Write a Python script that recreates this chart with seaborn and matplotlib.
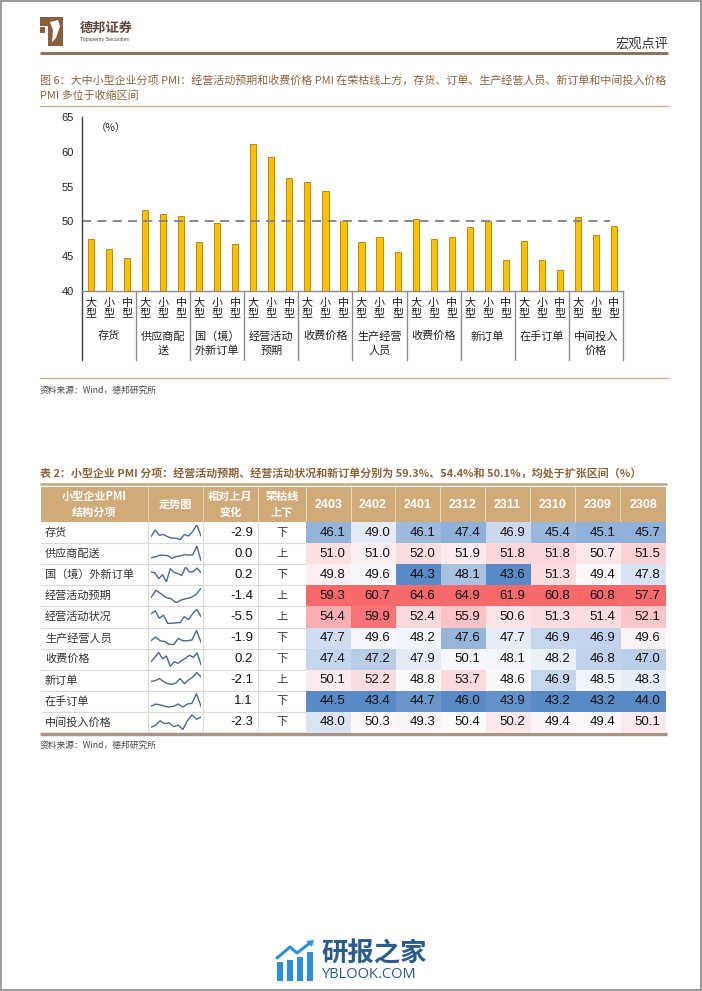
import numpy as np
import pandas as pd
import matplotlib
matplotlib.use("Agg")
import matplotlib.pyplot as plt
import matplotlib.transforms as mtransforms
from matplotlib.colors import LinearSegmentedColormap
from matplotlib.patches import Rectangle, Polygon
import seaborn as sns

# ---------------- data: bar chart ----------------
groups = ["存货", "供应商配\n送", "国（境）\n外新订单", "经营活动\n预期", "收费价格",
          "生产经营\n人员", "收费价格", "新订单", "在手订单", "中间投入\n价格"]
sizes = ["大\n型", "小\n型", "中\n型"]
large = [47.4, 51.6, 47.0, 61.1, 55.6, 47.0, 50.4, 49.2, 47.2, 50.7]
small = [46.1, 51.0, 49.8, 59.3, 54.4, 47.7, 47.4, 50.1, 44.5, 48.0]
medium = [44.8, 50.8, 46.7, 56.2, 50.0, 45.6, 47.7, 44.4, 43.0, 49.3]
y_ticks = [40, 45, 50, 55, 60, 65]

# ---------------- data: table ----------------
row_names = ["存货", "供应商配送", "国（境）外新订单", "经营活动预期", "经营活动状况",
             "生产经营人员", "收费价格", "新订单", "在手订单", "中间投入价格"]
months = ["2403", "2402", "2401", "2312", "2311", "2310", "2309", "2308"]
inv = [46.1, 49.0, 46.1, 47.4, 46.9, 45.4, 45.1, 45.7]
sup = [51.0, 51.0, 52.0, 51.9, 51.8, 51.8, 50.7, 51.5]
exp_order = [49.8, 49.6, 44.3, 48.1, 43.6, 51.3, 49.4, 47.8]
expect = [59.3, 60.7, 64.6, 64.9, 61.9, 60.8, 60.8, 57.7]
activity = [54.4, 59.9, 52.4, 55.9, 50.6, 51.3, 51.4, 52.1]
employ = [47.7, 49.6, 48.2, 47.6, 47.7, 46.9, 46.9, 49.6]
charge = [47.4, 47.2, 47.9, 50.1, 48.1, 48.2, 46.8, 47.0]
new_order = [50.1, 52.2, 48.8, 53.7, 48.6, 46.9, 48.5, 48.3]
backlog = [44.5, 43.4, 44.7, 46.0, 43.9, 43.2, 43.2, 44.0]
input_price = [48.0, 50.3, 49.3, 50.4, 50.2, 49.4, 49.4, 50.1]
change = [-2.9, 0.0, 0.2, -1.4, -5.5, -1.9, 0.2, -2.1, 1.1, -2.3]
side = ["下", "上", "下", "上", "上", "下", "下", "上", "下", "下"]

# sparkline shapes (relative heights)
sp_inv = [2, 6.5, 3, 3.5, 2, 1, 1, 0, 3.5, 2.5, 5.5, 10, 2.5]
sp_sup = [2.1, 2.5, 3.7, 3.8, 3.5, 1.7, 2.8, 3.3, 4.2, 3.8, 4.0, 10, 0]
sp_exp = [6.7, 6.2, 2.2, 4.9, 0, 8.9, 6.5, 5.6, 4.4, 10, 6.7, 7.1, 9.3, 6.2]
sp_expect = [3.7, 8.6, 6.3, 3.7, 2.9, 0, 2.0, 2.9, 3.7, 5.7, 10]
sp_act = [7, 9, 4, 6, 0.5, 0.5, 0.8, 1, 5, 3, 7, 10, 5]
sp_emp = [3, 5.5, 3, 2.5, 0.5, 0.5, 4.5, 3, 3, 3.5, 10, 2]
sp_charge = [3, 6, 9.5, 5, 7, 0, 3, 2, 4, 5.5, 7.5, 6, 9, 1]
sp_new = [4, 4.5, 6, 4, 2.5, 2, 3, 6, 2.5, 5, 7, 10, 7]
sp_back = [1.5, 3, 2.5, 1.5, 1, 1.5, 3, 1, 3, 3.5, 10, 1.5]
sp_input = [1.5, 3, 6, 4, 4.5, 2, 3, 0, 6, 10, 7, 8.5]

# ---------------- setup ----------------
sns.set_theme(style="white")
plt.rcParams["font.family"] = ["Noto Sans CJK SC", "DejaVu Sans"]
W, H = 702, 991
fig = plt.figure(figsize=(7.02, 9.91), dpi=100)
fig.patch.set_facecolor("white")

def fbox(x0, y0, x1, y1):
    return [x0 / W, 1 - y1 / H, (x1 - x0) / W, (y1 - y0) / H]

P = fig.add_axes([0, 0, 1, 1], zorder=0)
P.set_xlim(0, W); P.set_ylim(H, 0); P.axis("off")

BROWN = "#8C6239"
TAN = "#C9AE8C"
NUM = ["Liberation Sans", "DejaVu Sans"]

# page frame
P.add_patch(Rectangle((0.5, 0.5), W - 1.5, H - 1.5, fill=False, ec="#8A8A8A", lw=1.2))

# header logo
P.add_patch(Rectangle((40, 17), 23, 9, color="#8B5E3C", lw=0))
P.add_patch(Rectangle((48, 26), 15, 20, color="#8B5E3C", lw=0))
P.add_patch(Rectangle((40, 27), 5, 6, color="#8B5E3C", lw=0))
P.add_patch(Polygon([[50, 22], [58, 20], [60, 26], [56, 38], [52, 42], [53, 30]], color="white", lw=0))
P.text(80, 28, "德邦证券", fontsize=9.5, weight="bold", color="#5B4636", va="center")
P.text(80, 40, "Topsperity Securities", fontsize=3.8, color="#5B4636", va="center", family=NUM)
P.text(668, 44, "宏观点评", fontsize=9.5, color="#333333", ha="right", va="center")
P.plot([40, 668], [53, 53], color="#8B6B4E", lw=2, solid_capstyle="butt")

# figure title
P.text(40, 80, "图 6：大中小型企业分项 PMI：经营活动预期和收费价格 PMI 在荣枯线上方，存货、订单、生产经营人员、新订单和中间投入价格",
       fontsize=7.9, color=BROWN, va="center")
P.text(40, 96, "PMI 多位于收缩区间", fontsize=7.9, color=BROWN, va="center")
P.plot([40, 668], [106, 106], color=TAN, lw=1)

# ---------------- bar chart ----------------
keys, vals, = [], []
for i in range(len(groups)):
    for j, arr in enumerate([large, small, medium]):
        keys.append(f"{i}-{j}")
        vals.append(arr[i])
df_bar = pd.DataFrame({"key": keys, "value": vals})

ax = fig.add_axes(fbox(82, 117, 623, 291), zorder=2)
sns.barplot(data=df_bar, x="key", y="value", order=keys, color="#FFC000", saturation=1,
            width=0.34, edgecolor="#B07D00", linewidth=0.6, ax=ax)
ax.set_xlim(-0.5, len(keys) - 0.5)
ax.set_ylim(y_ticks[0], y_ticks[-1])
ax.set_yticks(y_ticks)
ax.set_yticklabels([str(t) for t in y_ticks], fontsize=8, family=NUM, color="#222222")
ax.set_xticks(range(len(keys)))
ax.set_xticklabels(sizes * len(groups), fontsize=8, linespacing=1.05, color="#222222")
ax.tick_params(axis="both", length=0)
ax.tick_params(axis="y", pad=6)
ax.tick_params(axis="x", pad=5)
ax.set_xlabel(""); ax.set_ylabel("")
for s in ["top", "right"]:
    ax.spines[s].set_visible(False)
ax.spines["left"].set_color("#404040")
ax.spines["bottom"].set_color("#8C8C8C")
ax.spines["left"].set_linewidth(1.0)
ax.spines["bottom"].set_linewidth(1.0)
ax.axhline(50, xmin=0, xmax=(610 - 82) / (623 - 82), color="#808080", ls=(0, (5, 3.5)), lw=1.3, zorder=1)
ax.text(0.025, 0.935, "（%）", transform=ax.transAxes, fontsize=7.5, color="#222222", va="center")

trans = mtransforms.blended_transform_factory(ax.transData, ax.transAxes)
ybot = -(360 - 291) / (291 - 117)
for k in range(len(groups) + 1):
    xb = 3 * k - 0.5
    ax.plot([xb, xb], [0, ybot], transform=trans, clip_on=False,
            color="#404040" if k == 0 else "#8C8C8C", lw=1.0)
for k, g in enumerate(groups):
    ax.text(3 * k + 1, -(331 - 291) / (291 - 117), g, transform=trans, ha="center", va="top",
            fontsize=8, linespacing=1.45, color="#222222")

# source 1
P.plot([40, 668], [378, 378], color=TAN, lw=1)
P.text(40, 390, "资料来源：Wind，德邦研究所", fontsize=6.3, color="#444444", va="center")

# ---------------- table ----------------
P.text(40, 473, "表 2：小型企业 PMI 分项：经营活动预期、经营活动状况和新订单分别为 59.3%、54.4%和 50.1%，均处于扩张区间（%）",
       fontsize=7.9, weight="bold", color=BROWN, va="center")
P.plot([40, 667], [484, 484], color=TAN, lw=2, solid_capstyle="butt")

cols = [41, 148, 203, 258, 306, 351, 395, 440, 485, 530, 575, 620, 666]
top_h, bot_h = 487, 522
row_h = (733 - 522) / 10
HEAD = "#D0AA78"
P.add_patch(Rectangle((cols[0], top_h), cols[-1] - cols[0], bot_h - top_h, color=HEAD, lw=0))
for c in cols[1:-1]:
    P.plot([c, c], [top_h, bot_h], color="#E8D6BC", lw=0.8)
heads = ["小型企业PMI\n结构分项", "走势图", "相对上月\n变化", "荣枯线\n上下"]
for i, h in enumerate(heads):
    P.text((cols[i] + cols[i + 1]) / 2, (top_h + bot_h) / 2, h, ha="center", va="center",
           fontsize=8, weight="bold", color="white", linespacing=1.35)
for i, m in enumerate(months):
    P.text((cols[4 + i] + cols[5 + i]) / 2, (top_h + bot_h) / 2, m, ha="center", va="center",
           fontsize=9, weight="bold", color="white", family=NUM)

for r in range(len(row_names)):
    y0 = bot_h + r * row_h
    yc = y0 + row_h / 2
    P.text(45, yc, row_names[r], fontsize=8, color="#333333", va="center")
    P.text(253, yc, f"{change[r]:.1f}", fontsize=9.5, color="#111111", va="center", ha="right", family=NUM)
    P.text((cols[3] + cols[4]) / 2, yc, side[r], fontsize=8, color="#333333", va="center", ha="center")
    if r > 0:
        P.plot([cols[0], cols[4]], [y0, y0], color="#DADADA", lw=0.8)
for c in cols[1:4]:
    P.plot([c, c], [bot_h, 733], color="#DADADA", lw=0.8)

# heatmap (per-column 3-colour scale: min / median / max)
table_vals = np.array([inv, sup, exp_order, expect, activity, employ, charge, new_order, backlog, input_price])
norm = np.zeros_like(table_vals)
for j in range(table_vals.shape[1]):
    c = table_vals[:, j]
    mn, md, mx = c.min(), np.median(c), c.max()
    norm[:, j] = np.where(c <= md, 0.5 * (c - mn) / (md - mn), 0.5 + 0.5 * (c - md) / (mx - md))
cmap = LinearSegmentedColormap.from_list("xl", ["#5A8AC6", "#FCFCFF", "#F8696B"])
hax = fig.add_axes(fbox(cols[4], bot_h, cols[-1], 733), zorder=3)
sns.heatmap(pd.DataFrame(norm, index=row_names, columns=months), annot=table_vals, fmt=".1f",
            cmap=cmap, vmin=0, vmax=1, cbar=False, ax=hax, xticklabels=False, yticklabels=False,
            annot_kws={"fontsize": 9.5, "color": "#111111", "family": NUM})
for t in hax.texts:
    x, y = t.get_position()
    t.set_position((x + 0.37, y))
    t.set_ha("right")
hax.set_xlabel(""); hax.set_ylabel("")
hax.tick_params(length=0)

# sparklines
sparks = [sp_inv, sp_sup, sp_exp, sp_expect, sp_act, sp_emp, sp_charge, sp_new, sp_back, sp_input]
for r, s in enumerate(sparks):
    y0 = bot_h + r * row_h
    sax = fig.add_axes(fbox(151, y0 + 2.5, 201, y0 + row_h - 3), zorder=3)
    sns.lineplot(x=np.arange(len(s)), y=s, ax=sax, color="#4A6796", lw=1.0)
    sax.set_xlim(0, len(s) - 1)
    sax.set_ylim(-0.3, 10.3)
    sax.axis("off")

P.plot([40, 667], [734, 734], color="#A89482", lw=2.5, solid_capstyle="butt")
P.text(40, 745, "资料来源：Wind，德邦研究所", fontsize=6.3, color="#444444", va="center")

# ---------------- watermark ----------------
BL = "#2E8FD8"
for (x0, yt) in [(277, 962), (287, 960), (297, 957), (307, 952)]:
    P.add_patch(Rectangle((x0, yt), 6, 981 - yt, color=BL, lw=0))
P.plot([277, 290, 297, 310], [958, 947, 953, 943], color=BL, lw=2.2, solid_capstyle="round")
P.add_patch(Polygon([[314, 940], [306, 941], [312, 947]], color=BL, lw=0))
P.text(321, 954, "研报之家", fontsize=19, weight="bold", color="#2A5B8C", va="center")
P.text(322, 975, "YBLOOK.COM", fontsize=10.5, color="#2A5B8C", va="center", family=["Open Sans", "DejaVu Sans"])

fig.savefig("out.png", dpi=100, facecolor="white")
